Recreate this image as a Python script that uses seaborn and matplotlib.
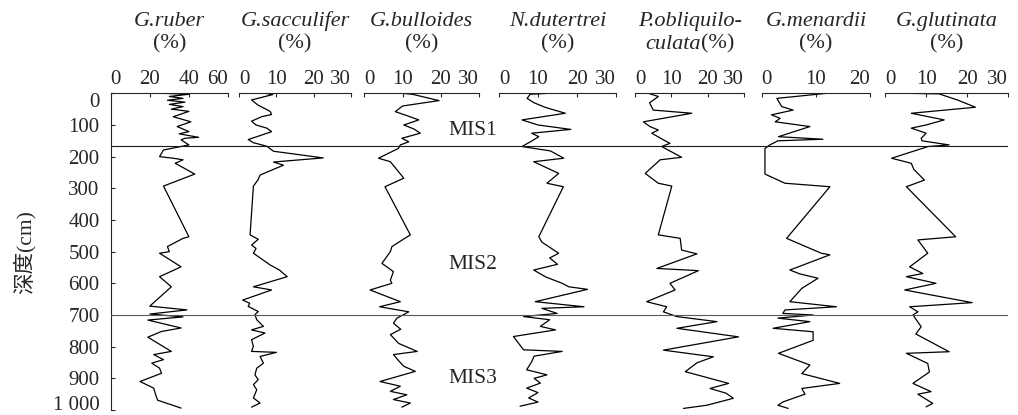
"""
Foraminifera abundance vs depth, seven panels
"""
import matplotlib
matplotlib.use('Agg')
import pandas as pd
import seaborn as sns
import matplotlib.pyplot as plt

# ---- data ----
species = ['G.ruber', 'G.sacculifer', 'G.bulloides', 'N.dutertrei',
           'P.obliquiloculata', 'G.menardii', 'G.glutinata']

ruber_depth = [0, 3, 10, 16, 22, 28, 35, 42, 50, 57, 74, 90, 105, 121, 128, 139, 142, 147, 163, 179,
               200, 205, 210, 221, 255, 293, 453, 458, 484, 500, 505, 548, 579, 611, 672, 684, 697, 706, 716, 741,
               752, 770, 815, 825, 841, 852, 868, 884, 910, 931, 952, 969, 994]
ruber_pct = [26, 40, 30, 37, 29, 38, 30, 37, 31, 40, 32, 41, 34, 40, 35, 45, 38, 36, 40, 27,
             25, 32, 37, 33, 43, 27, 40, 37, 29, 30, 25, 36, 25, 31, 20, 39, 20, 37, 19, 36,
             26, 19, 31, 22, 27, 21, 25, 26, 15, 22, 23, 24, 36]

sacculifer_depth = [0, 4, 21, 37, 57, 67, 74, 88, 100, 110, 121, 132, 146, 156, 167, 183, 204, 217, 227, 258,
                    274, 293, 447, 461, 479, 490, 505, 542, 558, 579, 611, 621, 653, 663, 673, 689, 699, 715, 736, 747,
                    757, 778, 799, 815, 818, 831, 852, 868, 889, 904, 920, 936, 962, 978, 991]
sacculifer_pct = [7, 9, 3.3, 5, 8.3, 8.7, 6, 3.3, 4.5, 7.4, 8.7, 6, 2.4, 3.8, 7.4, 9.2, 22.6, 9.2, 11.9, 5.6,
                  5, 3.8, 2.9, 5.1, 3.3, 4.5, 3.8, 8.3, 10.8, 12.9, 3.8, 8.7, 0.9, 2.8, 2.4, 5.1, 4.2, 4.7, 6.5, 3.3,
                  6.9, 3.3, 3.8, 3.3, 10, 5.6, 6.5, 4.7, 4.2, 5.1, 3.8, 4.7, 3.8, 5.6, 3.3]

bulloides_depth = [0, 3, 23, 40, 58, 70, 84, 100, 113, 126, 142, 153, 163, 174, 205, 216, 268, 295, 447, 484,
                   500, 537, 563, 590, 600, 621, 658, 674, 690, 710, 726, 745, 762, 790, 815, 825, 845, 862, 878, 910,
                   925, 941, 952, 967, 978, 991]
bulloides_pct = [9.8, 12.5, 19.5, 10, 8.1, 11, 14.2, 10.3, 13, 14.6, 9.8, 11.6, 9.4, 8.9, 3.7, 6.8, 10.3, 5.4, 12, 7.2,
                 6.8, 4.6, 7.6, 6.8, 7.2, 1.5, 9.4, 4, 11.6, 8.5, 7.6, 9.5, 6.8, 9, 13.8, 7.6, 9, 10.3, 13.3, 4.1,
                 9.4, 6.8, 11.1, 7.6, 12, 9.8]

dutertrei_depth = [0, 3, 16, 30, 45, 63, 84, 100, 114, 126, 137, 150, 168, 182, 205, 216, 253, 284, 295, 453,
                   470, 505, 520, 540, 558, 580, 600, 611, 619, 658, 674, 679, 695, 705, 715, 736, 747, 768, 810, 815,
                   830, 847, 873, 889, 900, 915, 931, 945, 962, 975, 988]
dutertrei_pct = [12.8, 8, 7.2, 9, 12, 17, 5.9, 10, 18.4, 8.4, 10.2, 8.5, 5.9, 13.2, 16.6, 8.9, 15.3, 12.3, 16.5, 10.2,
                 11, 15.3, 13, 15, 8.9, 12, 16.2, 17.9, 22.7, 9.3, 21.8, 11, 14.9, 6.3, 13, 10.6, 14.5, 3.7, 6.3, 16.2,
                 9, 8.4, 7.1, 12.3, 9, 10.6, 7.1, 10, 7.6, 10, 5.4]

obliq_depth = [0, 10, 30, 53, 63, 90, 105, 116, 126, 147, 158, 168, 202, 210, 253, 284, 293, 447, 458, 495,
               507, 553, 560, 600, 621, 658, 674, 690, 705, 721, 742, 769, 811, 832, 851, 879, 916, 932, 947, 963,
               985, 995]
obliq_pct = [3.7, 6.4, 4, 5, 15.6, 2.3, 4.1, 6.4, 4.6, 7.8, 9.6, 7.3, 12.8, 6.9, 2.8, 6.4, 10.1, 6.4, 12.4, 12.8,
             17, 6, 17.4, 9.6, 11, 3.2, 8.7, 7.8, 11.5, 22.5, 11.5, 28.4, 7.8, 21.5, 17, 13.8, 25.7, 20.6, 25, 27,
             19.7, 13.3]

menardii_depth = [0, 16, 42, 53, 68, 79, 90, 105, 137, 145, 150, 163, 174, 221, 255, 284, 295, 458, 505, 510,
                  558, 570, 584, 616, 658, 674, 684, 695, 700, 710, 721, 742, 753, 780, 821, 858, 885, 916, 932, 950,
                  974, 985, 995]
menardii_pct = [12, 2.8, 3.7, 5.8, 1.8, 3.4, 2.5, 8.9, 3.1, 11.3, 3, 1.5, 0.6, 0.6, 0.6, 4.3, 12.6, 4.6, 11, 12.6,
                5.2, 7, 10.4, 7.4, 5.2, 13.8, 4.3, 3.9, 9.5, 3, 8.9, 2.1, 9.5, 9.5, 3.1, 8.9, 7.4, 14.4, 7.4, 8,
                4, 3, 4.9]

glutinata_depth = [0, 2, 21, 44, 63, 84, 100, 110, 126, 142, 150, 163, 168, 205, 221, 240, 274, 295, 453, 463,
                   505, 548, 569, 579, 600, 621, 661, 674, 690, 700, 737, 760, 816, 821, 853, 880, 916, 942, 950, 979,
                   990]
glutinata_pct = [5.6, 13.2, 17.6, 22, 6.4, 14.4, 10, 6.4, 10, 8.8, 9, 15.6, 10.5, 1.6, 6.4, 7, 9.6, 5.2, 17.2, 8,
                 10.4, 6, 9.2, 5.2, 12.4, 4.8, 21.2, 6, 8, 6.8, 8.8, 7.5, 15.6, 5.2, 10.4, 10.8, 6.8, 11.2, 8, 11.6,
                 10]

x_ticks = [[0, 20, 40, 60], [0, 10, 20, 30], [0, 10, 20, 30], [0, 10, 20, 30],
           [0, 10, 20, 30], [0, 10, 20], [0, 10, 20, 30]]
# first title line (italic); P.obliquiloculata is split over two lines
title_line1 = ['G.ruber', 'G.sacculifer', 'G.bulloides', 'N.dutertrei',
               'P.obliquilo-', 'G.menardii', 'G.glutinata']
depth_ticks = [0, 100, 200, 300, 400, 500, 600, 700, 800, 900, 1000]
depth_labels = ['0', '100', '200', '300', '400', '500', '600', '700', '800', '900', '1 000']
stage_bounds = [167, 700]
stage_names = ['MIS1', 'MIS2', 'MIS3']
stage_label_depth = [117, 540, 900]

depths = [ruber_depth, sacculifer_depth, bulloides_depth, dutertrei_depth,
          obliq_depth, menardii_depth, glutinata_depth]
pcts = [ruber_pct, sacculifer_pct, bulloides_pct, dutertrei_pct,
        obliq_pct, menardii_pct, glutinata_pct]

frames = []
for name, d, p in zip(species, depths, pcts):
    frames.append(pd.DataFrame({'species': name, 'depth': d, 'pct': p}))
df = pd.concat(frames, ignore_index=True)

# ---- style ----
sns.set_style('ticks')
plt.rcParams['font.family'] = ['Liberation Serif', 'Noto Sans CJK SC']
plt.rcParams['axes.linewidth'] = 0.8

W, H = 1018, 415
fig = plt.figure(figsize=(W / 100, H / 100), dpi=100)

top_px, bot_px = 93.3, 410.0
panel_px = [(110.7, 228.0), (239.3, 350.7), (364.3, 479.3), (499.0, 616.0),
            (635.0, 744.3), (761.7, 870.0), (885.0, 1008.3)]
fs_tick = 15
fs_title = 16


def px_rect(x0, x1):
    return [x0 / W, (H - bot_px) / H, (x1 - x0) / W, (bot_px - top_px) / H]


def title_text(ax, s, dx, dy, **kw):
    ax.annotate(s, xy=(0.5, 1.0), xycoords='axes fraction', xytext=(dx, dy),
                textcoords='offset points', va='baseline', fontsize=fs_title, **kw)


for i, name in enumerate(species):
    ax = fig.add_axes(px_rect(*panel_px[i]))
    sub = df[df['species'] == name]
    sns.lineplot(data=sub, x='pct', y='depth', orient='y', sort=False, estimator=None,
                 color='black', lw=0.9, ax=ax)
    ax.set_xlabel('')
    ax.set_ylabel('')
    ax.set_ylim(1000, 0)
    ax.set_xlim(x_ticks[i][0], x_ticks[i][-1])
    ax.set_facecolor('none')
    for s in ['bottom', 'right']:
        ax.spines[s].set_visible(False)
    ax.xaxis.set_ticks_position('top')
    ax.set_xticks(x_ticks[i], [str(t) for t in x_ticks[i]])
    ax.tick_params(axis='x', top=True, bottom=False, labeltop=True, labelbottom=False,
                   direction='in', length=3, width=0.8, pad=3, labelsize=fs_tick)
    ticks = ax.xaxis.get_major_ticks()
    ticks[0].label2.set_ha('left')
    ticks[-1].label2.set_ha('right')
    if i == 0:
        ax.set_yticks(depth_ticks, depth_labels)
        ax.tick_params(axis='y', left=True, direction='in', length=3, width=0.8, pad=8, labelsize=fs_tick)
        yt = ax.yaxis.get_major_ticks()
        yt[0].label1.set_va('top')
        yt[-1].label1.set_va('baseline')
    else:
        ax.spines['left'].set_visible(False)
        ax.set_yticks([])

    # two-line header: italic name, upright (%)
    title_text(ax, title_line1[i], 0, 48.5, ha='center', style='italic')
    if name == 'P.obliquiloculata':
        title_text(ax, 'culata', 8, 32, ha='right', style='italic')
        title_text(ax, '(%)', 8, 32, ha='left')
    else:
        title_text(ax, '(%)', 0, 32, ha='center')

# stage boundaries and labels across all panels
ov = fig.add_axes(px_rect(panel_px[0][0], panel_px[-1][1]))
ov.set_ylim(1000, 0)
ov.set_xlim(0, 1)
ov.axis('off')
ov.axhline(stage_bounds[0], color='0.1', lw=0.8)
ov.axhline(stage_bounds[1], color='0.35', lw=0.8)
mis_x = (473 - panel_px[0][0]) / (panel_px[-1][1] - panel_px[0][0])
for name, d in zip(stage_names, stage_label_depth):
    ov.text(mis_x, d, name, ha='center', va='center', fontsize=15.5)

fig.text(24 / W, 1 - 252 / H, '深度(cm)', rotation=90, ha='center', va='center', fontsize=15.5)

fig.savefig('out.png', dpi=100)
